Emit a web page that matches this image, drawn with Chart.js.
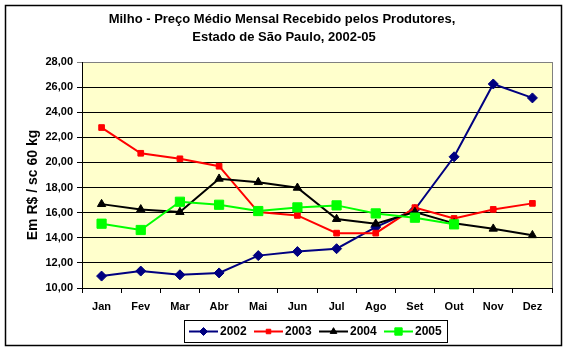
<!DOCTYPE html>
<html>
<head>
<meta charset="utf-8">
<script src="https://cdn.jsdelivr.net/npm/chart.js@4/dist/chart.umd.min.js"></script>
<style>
html,body{margin:0;padding:0;background:#fff;}
#wrap{width:568px;height:352px;position:relative;}
</style>
</head>
<body>
<div id="wrap"><canvas id="c" width="568" height="352"></canvas></div>
<script>
const titleLines = ["Milho - Preço Médio Mensal Recebido pelos Produtores,", "Estado de São Paulo, 2002-05"];
const yTitle = "Em R$ / sc 60 kg";
const months = ["Jan","Fev","Mar","Abr","Mai","Jun","Jul","Ago","Set","Out","Nov","Dez"];
const seriesNames = ["2002","2003","2004","2005"];
const v2002 = [10.95, 11.35, 11.05, 11.20, 12.58, 12.90, 13.13, 14.85, 16.25, 20.45, 26.25, 25.14];
const v2003 = [22.78, 20.73, 20.29, 19.70, 16.05, 15.78, 14.37, 14.37, 16.40, 15.54, 16.26, 16.74];
const v2004 = [16.68, 16.26, 16.05, 18.70, 18.43, 17.98, 15.49, 15.12, 16.05, 15.15, 14.72, 14.20];
const v2005 = [15.12, 14.62, 16.87, 16.63, 16.13, 16.42, 16.58, 15.94, 15.60, 15.07, null, null];
const yMin = 10, yMax = 28, yStep = 2;

const colors = ["#000080", "#FF0000", "#000000", "#00FF00"];
const styles = ["rectRot", "rect", "triangle", "rect"];
const radii = [5, 4, 4.8, 6.5];
const values = [v2002, v2003, v2004, v2005];

const datasets = values.map((v, i) => ({
  label: seriesNames[i],
  data: v,
  borderColor: colors[i],
  backgroundColor: colors[i],
  pointBackgroundColor: colors[i],
  pointBorderColor: colors[i],
  pointStyle: styles[i],
  pointRadius: radii[i],
  pointHoverRadius: radii[i],
  pointBorderWidth: 1,
  borderWidth: 2,
  tension: 0,
  fill: false,
  spanGaps: false,
  order: 4 - i
}));

const FONT = "'Liberation Sans', Arial, sans-serif";

function drawMarker(ctx, style, x, y, r, color) {
  ctx.save();
  ctx.fillStyle = color;
  ctx.strokeStyle = color;
  ctx.lineWidth = 1;
  ctx.beginPath();
  if (style === 'rectRot') {
    ctx.moveTo(x - r, y); ctx.lineTo(x, y - r); ctx.lineTo(x + r, y); ctx.lineTo(x, y + r); ctx.closePath();
  } else if (style === 'rect') {
    const s = Math.SQRT1_2 * r;
    ctx.rect(x - s, y - s, 2 * s, 2 * s);
  } else if (style === 'triangle') {
    ctx.moveTo(x - r * 0.866, y + r * 0.5);
    ctx.lineTo(x, y - r);
    ctx.lineTo(x + r * 0.866, y + r * 0.5);
    ctx.closePath();
  }
  ctx.fill();
  ctx.stroke();
  ctx.restore();
}

const decor = {
  id: 'decor',
  beforeDraw(chart) {
    const ctx = chart.ctx, a = chart.chartArea;
    ctx.save();
    ctx.fillStyle = '#FFFFFF';
    ctx.fillRect(0, 0, chart.width, chart.height);
    ctx.fillStyle = '#FFFFCC';
    ctx.fillRect(a.left, a.top, a.right - a.left, a.bottom - a.top);
    ctx.restore();
  },
  afterDraw(chart) {
    const ctx = chart.ctx, a = chart.chartArea;
    ctx.save();
    ctx.strokeStyle = '#808080';
    ctx.lineWidth = 1;
    ctx.beginPath();
    ctx.moveTo(Math.round(a.right) + 0.5, a.top);
    ctx.lineTo(Math.round(a.right) + 0.5, a.bottom);
    ctx.stroke();
    ctx.strokeStyle = '#000000';
    ctx.lineWidth = 1.5;
    ctx.strokeRect(5.5, 5.5, 556, 340);
    ctx.fillStyle = '#000';
    ctx.font = "bold 13px " + FONT;
    ctx.textAlign = 'center';
    ctx.textBaseline = 'alphabetic';
    ctx.fillText(titleLines[0], 282, 23);
    ctx.fillText(titleLines[1], 284, 40.5);
    ctx.save();
    ctx.translate(33, 185);
    ctx.rotate(-Math.PI / 2);
    ctx.font = "bold 14px " + FONT;
    ctx.textBaseline = 'middle';
    ctx.textAlign = 'center';
    ctx.fillText(yTitle, 0, 0);
    ctx.restore();
    ctx.strokeStyle = '#000';
    ctx.lineWidth = 1;
    ctx.strokeRect(184.5, 320.5, 263, 22);
    const ly = 331.5;
    const lineStarts = [189, 254, 319, 384];
    ctx.font = "bold 12px " + FONT;
    ctx.textAlign = 'left';
    ctx.textBaseline = 'middle';
    for (let i = 0; i < 4; i++) {
      const x0 = lineStarts[i], x1 = x0 + 29;
      ctx.strokeStyle = colors[i];
      ctx.lineWidth = 2;
      ctx.beginPath();
      ctx.moveTo(x0, ly); ctx.lineTo(x1, ly);
      ctx.stroke();
      drawMarker(ctx, styles[i], (x0 + x1) / 2, ly, radii[i] * 0.8, colors[i]);
      ctx.fillStyle = '#000';
      ctx.fillText(seriesNames[i], x1 + 2, ly + 0.5);
    }
    ctx.restore();
  }
};

new Chart(document.getElementById('c'), {
  type: 'line',
  data: { labels: months, datasets: datasets },
  options: {
    responsive: false,
    animation: false,
    devicePixelRatio: 1,
    layout: { padding: { left: 0, top: 62, right: 16, bottom: 0 } },
    plugins: { legend: { display: false }, title: { display: false }, tooltip: { enabled: false } },
    scales: {
      x: {
        type: 'category',
        offset: true,
        grid: { offset: true, drawOnChartArea: false, drawTicks: true, tickLength: 5, color: '#000', lineWidth: 1 },
        border: { color: '#000', width: 1 },
        ticks: { color: '#000', font: { family: FONT, size: 11, weight: 'bold' }, padding: 7, maxRotation: 0, autoSkip: false },
        afterFit(s) { s.height = 64; }
      },
      y: {
        min: yMin, max: yMax,
        grid: {
          drawTicks: true, tickLength: 5, lineWidth: 1,
          color: (c) => (c.tick && c.tick.value === yMax) ? '#808080' : '#000'
        },
        border: { color: '#000', width: 1 },
        ticks: {
          stepSize: yStep, color: '#000', padding: 4,
          font: { family: FONT, size: 11, weight: 'bold' },
          callback: (v) => Number(v).toFixed(2).replace('.', ',')
        },
        afterFit(s) { s.width = 82; }
      }
    }
  },
  plugins: [decor]
});
</script>
</body>
</html>
